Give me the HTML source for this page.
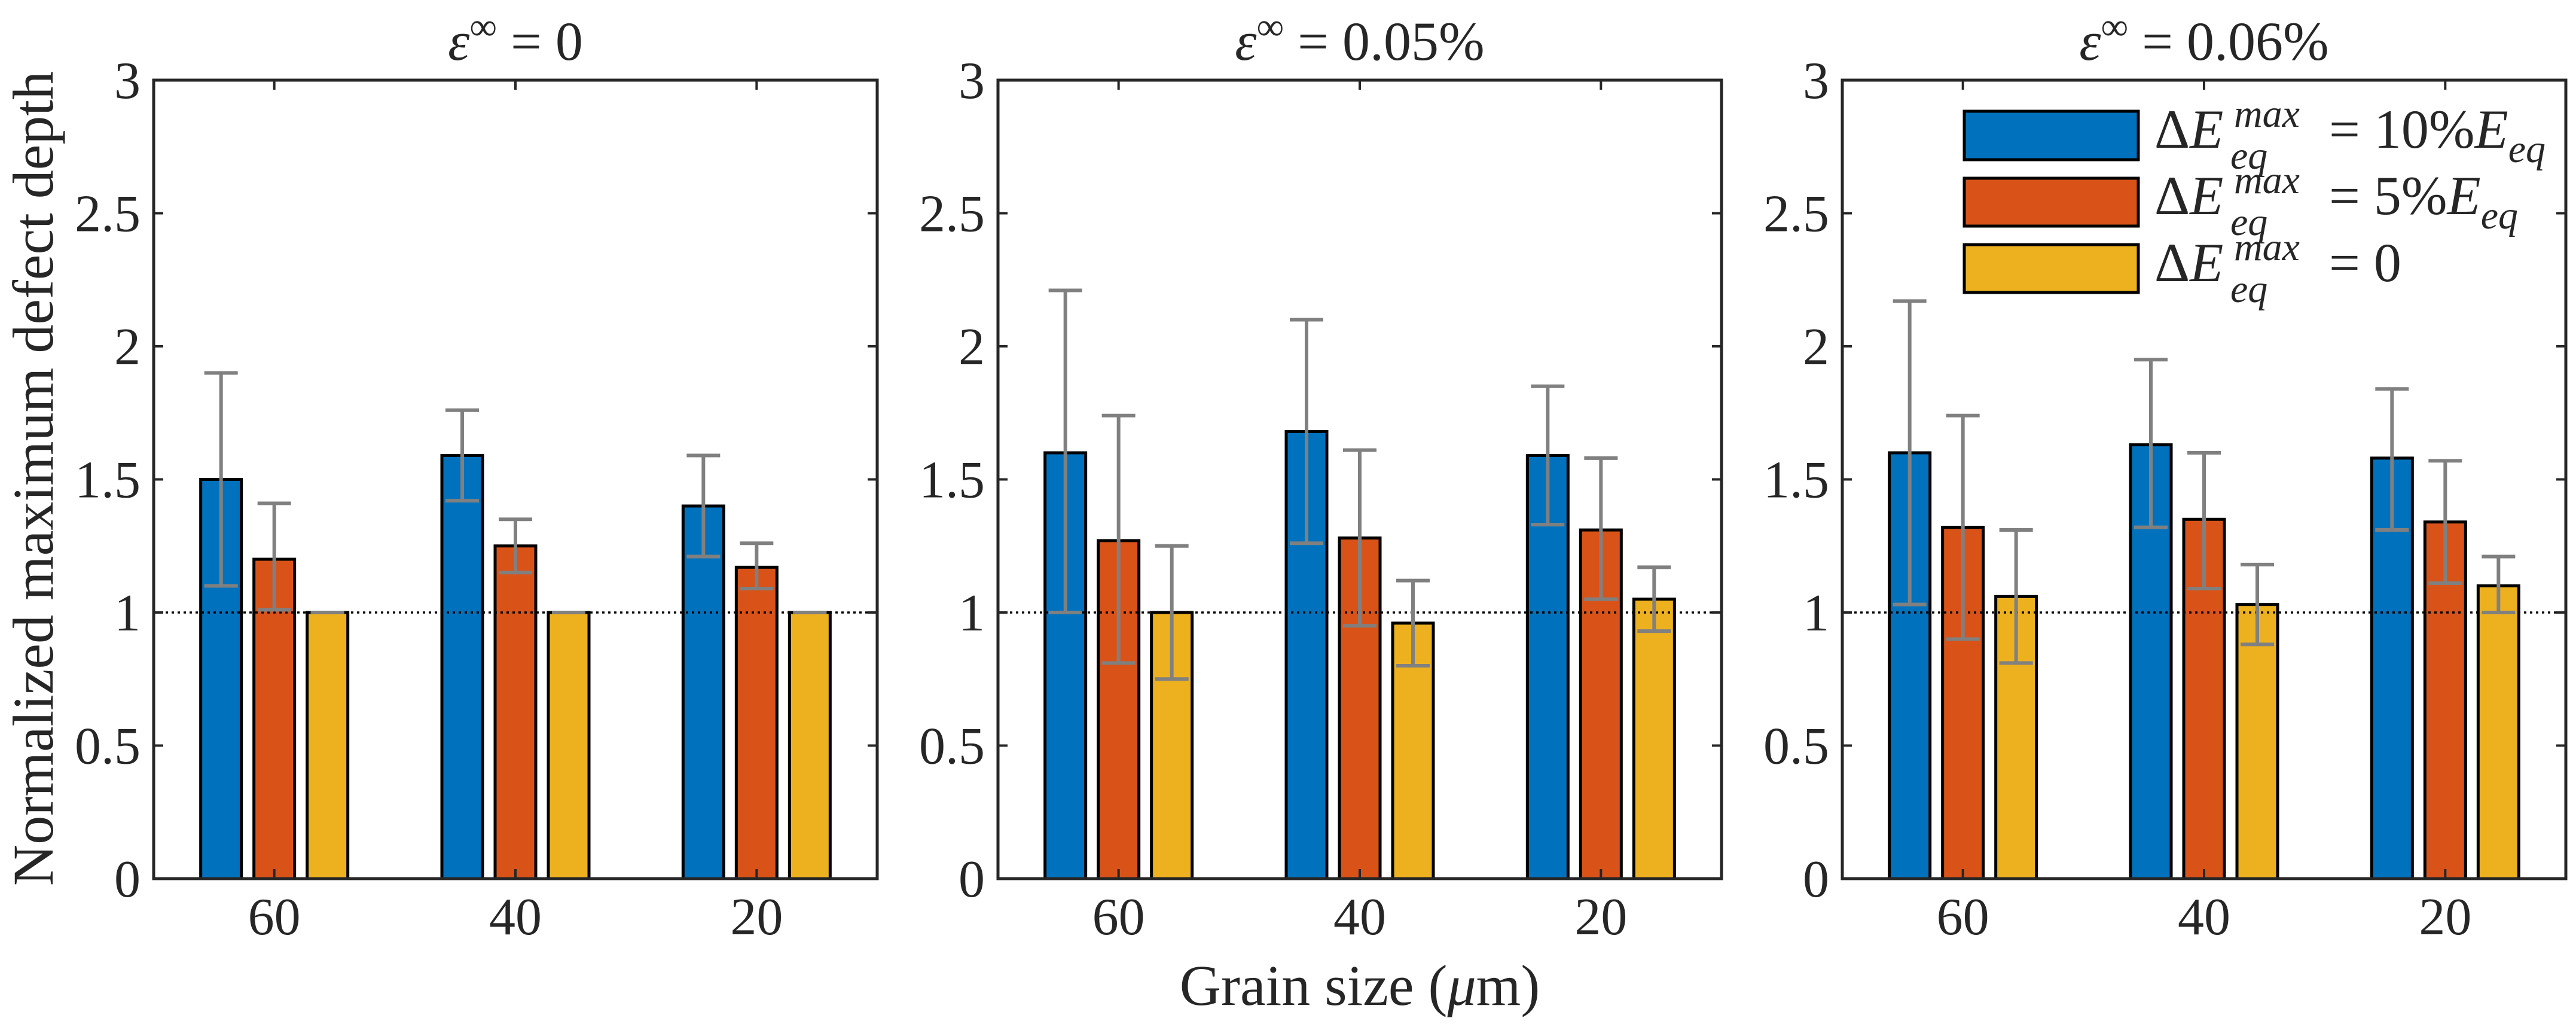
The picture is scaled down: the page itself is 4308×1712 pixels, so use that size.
<!DOCTYPE html>
<html><head><meta charset="utf-8"><style>
html,body{margin:0;padding:0;background:#fff;}
svg{display:block;}
text{font-family:"Liberation Serif",serif;fill:#262626;}
</style></head><body>
<svg id="chart" width="4308" height="1712" viewBox="0 0 4308 1712" xmlns="http://www.w3.org/2000/svg">
<g id="panels"></g>
<text transform="translate(88,800) rotate(-90)" text-anchor="middle" font-size="96">Normalized maximum defect depth</text>
<text x="2274" y="1680" text-anchor="middle" font-size="96">Grain size (<tspan font-style="italic">μ</tspan>m)</text>
<g>
  <rect x="3285" y="186" width="291" height="81" fill="#0072BD" stroke="#000" stroke-width="5"/>
  <rect x="3285" y="298" width="291" height="80" fill="#D95319" stroke="#000" stroke-width="5"/>
  <rect x="3285" y="409" width="291" height="80" fill="#EDB120" stroke="#000" stroke-width="5"/>
  <g font-size="92">
    <text x="3603" y="247" fill="#000">Δ<tspan font-style="italic">E</tspan></text>
    <text x="3736" y="212" font-size="66" font-style="italic" fill="#000">max</text>
    <text x="3730" y="282" font-size="66" font-style="italic" fill="#000">eq</text>
    <text x="3895" y="247" fill="#000">= 10%<tspan font-style="italic">E</tspan><tspan font-size="66" font-style="italic" dy="24">eq</tspan></text>
  </g>
  <g font-size="92">
    <text x="3603" y="358" fill="#000">Δ<tspan font-style="italic">E</tspan></text>
    <text x="3736" y="323" font-size="66" font-style="italic" fill="#000">max</text>
    <text x="3730" y="393" font-size="66" font-style="italic" fill="#000">eq</text>
    <text x="3895" y="358" fill="#000">= 5%<tspan font-style="italic">E</tspan><tspan font-size="66" font-style="italic" dy="24">eq</tspan></text>
  </g>
  <g font-size="92">
    <text x="3603" y="470" fill="#000">Δ<tspan font-style="italic">E</tspan></text>
    <text x="3736" y="435" font-size="66" font-style="italic" fill="#000">max</text>
    <text x="3730" y="505" font-size="66" font-style="italic" fill="#000">eq</text>
    <text x="3895" y="470" fill="#000">= 0</text>
  </g>
</g>
</svg>
<script>
const categories = ["60", "40", "20"];
const panelTitles = ["= 0", "= 0.05%", "= 0.06%"];
const yTicks = [0, 0.5, 1, 1.5, 2, 2.5, 3];
const yTickLabels = ["0", "0.5", "1", "1.5", "2", "2.5", "3"];
const seriesNames = ["10pct", "5pct", "0"];
const p1Blue = [1.50, 1.59, 1.40], p1Orange = [1.20, 1.25, 1.17], p1Yellow = [1.00, 1.00, 1.00];
const p1BlueLo = [1.10, 1.42, 1.21], p1BlueHi = [1.90, 1.76, 1.59];
const p1OrangeLo = [1.01, 1.15, 1.09], p1OrangeHi = [1.41, 1.35, 1.26];
const p1YellowLo = [1.00, 1.00, 1.00], p1YellowHi = [1.00, 1.00, 1.00];
const p2Blue = [1.60, 1.68, 1.59], p2Orange = [1.27, 1.28, 1.31], p2Yellow = [1.00, 0.96, 1.05];
const p2BlueLo = [1.00, 1.26, 1.33], p2BlueHi = [2.21, 2.10, 1.85];
const p2OrangeLo = [0.81, 0.95, 1.05], p2OrangeHi = [1.74, 1.61, 1.58];
const p2YellowLo = [0.75, 0.80, 0.93], p2YellowHi = [1.25, 1.12, 1.17];
const p3Blue = [1.60, 1.63, 1.58], p3Orange = [1.32, 1.35, 1.34], p3Yellow = [1.06, 1.03, 1.10];
const p3BlueLo = [1.03, 1.32, 1.31], p3BlueHi = [2.17, 1.95, 1.84];
const p3OrangeLo = [0.90, 1.09, 1.11], p3OrangeHi = [1.74, 1.60, 1.57];
const p3YellowLo = [0.81, 0.88, 1.00], p3YellowHi = [1.31, 1.18, 1.21];
const refLine = 1;

const panelData = [
  {vals:[p1Blue,p1Orange,p1Yellow], lo:[p1BlueLo,p1OrangeLo,p1YellowLo], hi:[p1BlueHi,p1OrangeHi,p1YellowHi]},
  {vals:[p2Blue,p2Orange,p2Yellow], lo:[p2BlueLo,p2OrangeLo,p2YellowLo], hi:[p2BlueHi,p2OrangeHi,p2YellowHi]},
  {vals:[p3Blue,p3Orange,p3Yellow], lo:[p3BlueLo,p3OrangeLo,p3YellowLo], hi:[p3BlueHi,p3OrangeHi,p3YellowHi]}
];
const colors = ["#0072BD", "#D95319", "#EDB120"];
const NS = "http://www.w3.org/2000/svg";
const panelsG = document.getElementById("panels");
const lefts = [257, 1669, 3081], W = 1210, axTop = 134, axBottom = 1469;
function mk(tag, attrs, parent){ const e = document.createElementNS(NS, tag); for (const k in attrs) e.setAttribute(k, attrs[k]); parent.appendChild(e); return e; }

panelData.forEach((pd, pi) => {
  const L = lefts[pi];
  const xs = c => L + (c + 0.5) * W / 3;
  const ys = v => axBottom - (v / 3) * (axBottom - axTop);
  const g = mk("g", {}, panelsG);
  
  
  const t = mk("text", {x: L + W / 2, y: 100, "text-anchor": "middle", "font-size": 92}, g);
  
  
  const ts1 = mk("tspan", {"font-style": "italic"}, t); ts1.textContent = "ε";
  const ts2 = mk("tspan", {"font-size": 64, dy: -34}, t); ts2.textContent = "∞";
  const ts3 = mk("tspan", {dy: 34}, t); ts3.textContent = " " + panelTitles[pi];
  const off = [-89, 0, 89], bw = 68;
  pd.vals.forEach((arr, si) => {
    arr.forEach((v, ci) => {
      const cx = xs(ci) + off[si];
      const r = mk("rect", {x: cx - bw / 2, y: ys(v), width: bw, height: ys(0) - ys(v), fill: colors[si], stroke: "#000", "stroke-width": 5}, g);
      
      
    });
  });
  const rl = mk("line", {x1: L, x2: L + W, y1: ys(refLine), y2: ys(refLine), stroke: "#000", "stroke-width": 3.5, "stroke-dasharray": "4 6"}, g);
  
  
  pd.vals.forEach((arr, si) => {
    arr.forEach((v, ci) => {
      const cx = xs(ci) + off[si];
      const eg = mk("g", {stroke: "#808080", "stroke-width": 6}, g);
      
      
      const lo = ys(pd.lo[si][ci]), hi = ys(pd.hi[si][ci]);
      mk("line", {x1: cx, x2: cx, y1: lo, y2: hi}, eg);
      mk("line", {x1: cx - 28, x2: cx + 28, y1: lo, y2: lo}, eg);
      mk("line", {x1: cx - 28, x2: cx + 28, y1: hi, y2: hi}, eg);
    });
  });
  const box = mk("rect", {x: L, y: axTop, width: W, height: axBottom - axTop, fill: "none", stroke: "#262626", "stroke-width": 5}, g);
  
  
  yTicks.forEach((v, i) => {
    const y = ys(v);
    mk("line", {x1: L, x2: L + 16, y1: y, y2: y, stroke: "#262626", "stroke-width": 4}, g);
    mk("line", {x1: L + W, x2: L + W - 16, y1: y, y2: y, stroke: "#262626", "stroke-width": 4}, g);
    const tl = mk("text", {x: L - 22, y: y + 30, "text-anchor": "end", "font-size": 88}, g);
    
    
    tl.textContent = yTickLabels[i];
  });
  categories.forEach((c, ci) => {
    const x = xs(ci);
    mk("line", {x1: x, x2: x, y1: axBottom, y2: axBottom - 16, stroke: "#262626", "stroke-width": 4}, g);
    mk("line", {x1: x, x2: x, y1: axTop, y2: axTop + 16, stroke: "#262626", "stroke-width": 4}, g);
    const xl = mk("text", {x: x, y: 1562, "text-anchor": "middle", "font-size": 88}, g);
    
    
    xl.textContent = c;
  });
});
</script>
</body></html>
